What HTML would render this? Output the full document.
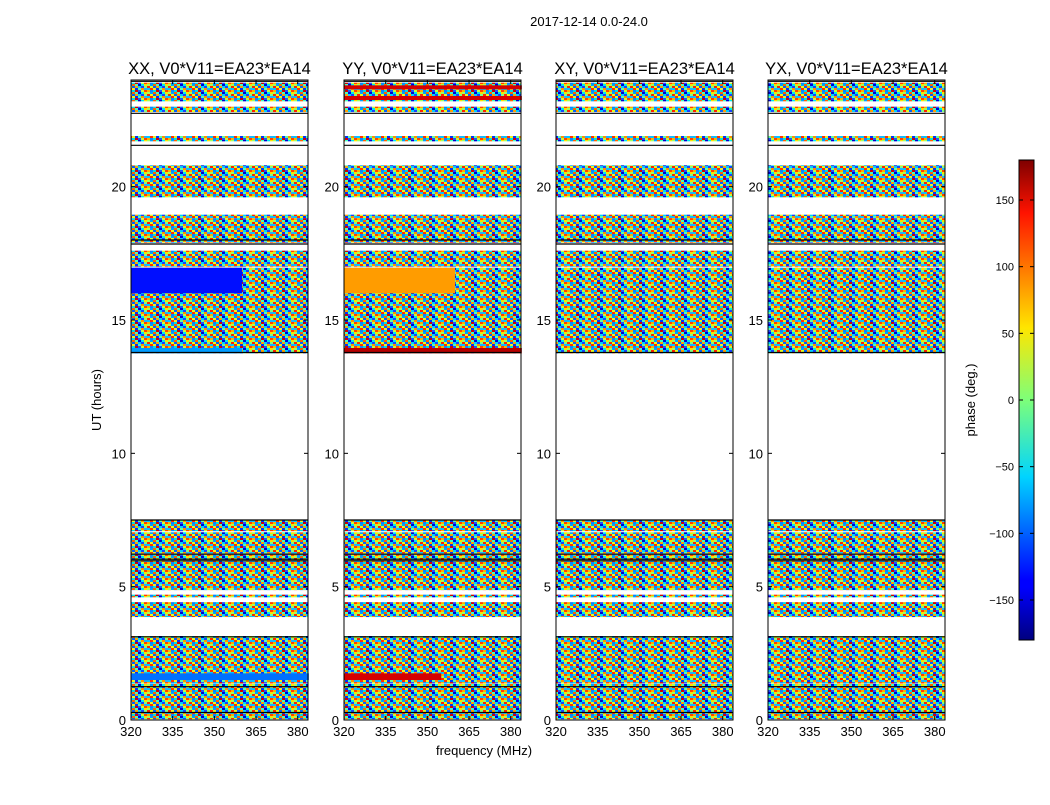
<!DOCTYPE html>
<html><head><meta charset="utf-8"><style>
body{margin:0;background:#fff;}
svg text{font-family:"Liberation Sans",sans-serif;}
</style></head><body>
<svg id="fig" width="1050" height="800" xmlns="http://www.w3.org/2000/svg">
<defs>
<pattern id="noise" patternUnits="userSpaceOnUse" width="21" height="8">
<rect x="0" y="0" width="3" height="2" fill="#00c8ff"/><rect x="3" y="0" width="3" height="2" fill="#ff3000"/><rect x="6" y="0" width="3" height="2" fill="#f0f020"/><rect x="9" y="0" width="3" height="2" fill="#0030ff"/><rect x="12" y="0" width="3" height="2" fill="#60ffa0"/><rect x="15" y="0" width="3" height="2" fill="#ff9000"/><rect x="18" y="0" width="3" height="2" fill="#20b0ff"/>
<rect x="0" y="2" width="3" height="2" fill="#ffb000"/><rect x="3" y="2" width="3" height="2" fill="#1080ff"/><rect x="6" y="2" width="3" height="2" fill="#00e0e0"/><rect x="9" y="2" width="3" height="2" fill="#d00000"/><rect x="12" y="2" width="3" height="2" fill="#2050ff"/><rect x="15" y="2" width="3" height="2" fill="#c0ff40"/><rect x="18" y="2" width="3" height="2" fill="#ff4000"/>
<rect x="0" y="4" width="3" height="2" fill="#a0ff60"/><rect x="3" y="4" width="3" height="2" fill="#00a0ff"/><rect x="6" y="4" width="3" height="2" fill="#ff6000"/><rect x="9" y="4" width="3" height="2" fill="#40ffc0"/><rect x="12" y="4" width="3" height="2" fill="#0000d0"/><rect x="15" y="4" width="3" height="2" fill="#00e8f0"/><rect x="18" y="4" width="3" height="2" fill="#ffe000"/>
<rect x="0" y="6" width="3" height="2" fill="#ff2000"/><rect x="3" y="6" width="3" height="2" fill="#e0ff20"/><rect x="6" y="6" width="3" height="2" fill="#0060ff"/><rect x="9" y="6" width="3" height="2" fill="#ffa000"/><rect x="12" y="6" width="3" height="2" fill="#00d0ff"/><rect x="15" y="6" width="3" height="2" fill="#1840ff"/><rect x="18" y="6" width="3" height="2" fill="#80ff80"/>
</pattern>
<linearGradient id="jet" x1="0" y1="1" x2="0" y2="0">
<stop offset="0" stop-color="#00007f"/><stop offset="0.11" stop-color="#0000ff"/><stop offset="0.125" stop-color="#0000ff"/><stop offset="0.34" stop-color="#00d4ff"/><stop offset="0.5" stop-color="#7dff7a"/><stop offset="0.65" stop-color="#ffe600"/><stop offset="0.89" stop-color="#ff1300"/><stop offset="1" stop-color="#7f0000"/>
</linearGradient>
</defs>
<text x="589" y="26" font-size="13" text-anchor="middle">2017-12-14 0.0-24.0</text>
<g id="panels"></g>
<text x="484" y="755" font-size="13" text-anchor="middle">frequency (MHz)</text>
<text transform="translate(101,400) rotate(-90)" font-size="13" text-anchor="middle">UT (hours)</text>
<g id="cbar"></g>
<text transform="translate(975,400) rotate(-90)" font-size="13" text-anchor="middle">phase (deg.)</text>
</svg>
<script>
const panelTitles = ["XX, V0*V11=EA23*EA14","YY, V0*V11=EA23*EA14","XY, V0*V11=EA23*EA14","YX, V0*V11=EA23*EA14"];
const xTicks = [320,335,350,365,380];
const yTicks = [0,5,10,15,20];
const cbTicks = [-150,-100,-50,0,50,100,150];
// time bands (hours) containing data
const bandStart = [0.03,0.26,1.39,1.99,3.86,4.6,4.87,6.0,6.25,7.08,13.75,16.0,17.0,17.9,18.8,19.6,21.7,22.8,23.2];
const bandEnd   = [0.26,1.37,1.99,3.15,4.42,4.7,5.99,6.2,7.04,7.49,16.0,16.96,17.6,18.8,18.95,20.8,21.9,23.0,23.9];
// uniform-phase regions: panel, t0, t1, f0, f1, phase
const specPanel = [0,0,0,1,1,1,1,1];
const specT0    = [16.0,13.75,1.5,16.0,13.75,1.5,23.25,23.65];
const specT1    = [16.96,13.95,1.75,16.96,13.95,1.75,23.4,23.8];
const specF0    = [320,320,320,320,320,320,320,320];
const specF1    = [360,360,384,360,384,355,384,384];
const specPhase = [-130,-80,-95,80,160,150,150,150];
// flagged/black rows
const blackRows = [23.95,22.75,21.55,18.0,17.85,13.78,7.5,6.22,6.03,5.97,3.12,1.25,0.28];

const panelX0 = [131,344,556,768], panelW = 177, yTop = 80, yBot = 720;
const fMin = 320, fMax = 383.7, tMin = 0, tMax = 24;
function xs(p,f){return panelX0[p] + (f-fMin)/(fMax-fMin)*panelW;}
function ys(t){return yBot - (t-tMin)/(tMax-tMin)*(yBot-yTop);}
function jet(v){
  let x=(v+180)/360;
  const r=Math.max(0,Math.min(1,1.5-Math.abs(4*x-3))), g=Math.max(0,Math.min(1,1.5-Math.abs(4*x-2))), b=Math.max(0,Math.min(1,1.5-Math.abs(4*x-1)));
  return `rgb(${Math.round(r*255)},${Math.round(g*255)},${Math.round(b*255)})`;
}
const NS="http://www.w3.org/2000/svg";
function mk(tag,attrs,parent){const e=document.createElementNS(NS,tag);for(const k in attrs)e.setAttribute(k,attrs[k]);parent.appendChild(e);return e;}
const G=document.getElementById('panels');
for(let p=0;p<4;p++){
  const g=mk('g',{},G);
  
  
  for(let i=0;i<bandStart.length;i++){
    const r=mk('rect',{x:xs(p,fMin),y:ys(bandEnd[i]),width:panelW,height:ys(bandStart[i])-ys(bandEnd[i]),fill:'url(#noise)'},g);
    
    
  }
  for(let i=0;i<specPanel.length;i++){
    if(specPanel[i]!==p)continue;
    const r=mk('rect',{x:xs(p,specF0[i]),y:ys(specT1[i]),width:xs(p,specF1[i])-xs(p,specF0[i]),height:ys(specT0[i])-ys(specT1[i]),fill:jet(specPhase[i])},g);
    
    
  }
  for(const t of blackRows){
    const l=mk('line',{x1:xs(p,fMin),x2:xs(p,fMin)+panelW,y1:ys(t),y2:ys(t),stroke:'#000','stroke-width':1.2},g);
    
    
  }
  const fr=mk('rect',{x:panelX0[p],y:yTop,width:panelW,height:yBot-yTop,fill:'none',stroke:'#000','stroke-width':1},g);
  
  
  const tt=mk('text',{x:panelX0[p]+panelW/2,y:74,'font-size':16.5,'text-anchor':'middle'},g);
  tt.textContent=panelTitles[p];
  
  
  for(const f of xTicks){
    const x=xs(p,f);
    mk('line',{x1:x,x2:x,y1:yBot,y2:yBot-4,stroke:'#000'},g);
    mk('line',{x1:x,x2:x,y1:yTop,y2:yTop+4,stroke:'#000'},g);
    const t=mk('text',{x:x,y:yBot+16,'font-size':13,'text-anchor':'middle'},g);
    t.textContent=f;
    
    
  }
  for(const v of yTicks){
    const y=ys(v);
    mk('line',{x1:panelX0[p],x2:panelX0[p]+4,y1:y,y2:y,stroke:'#000'},g);
    mk('line',{x1:panelX0[p]+panelW,x2:panelX0[p]+panelW-4,y1:y,y2:y,stroke:'#000'},g);
    const t=mk('text',{x:panelX0[p]-5,y:y+5,'font-size':13,'text-anchor':'end'},g);
    t.textContent=v;
    
    
  }
}
const CB=document.getElementById('cbar');
const cbX=1019,cbW=15,cbTop=160,cbBot=640;
function cy(v){return cbBot-(v+180)/360*(cbBot-cbTop);}
mk('rect',{x:cbX,y:cbTop,width:cbW,height:cbBot-cbTop,fill:'url(#jet)',stroke:'#000'},CB);
for(const v of cbTicks){
  const y=cy(v);
  mk('line',{x1:cbX,x2:cbX+4,y1:y,y2:y,stroke:'#000'},CB);
  mk('line',{x1:cbX+cbW,x2:cbX+cbW-4,y1:y,y2:y,stroke:'#000'},CB);
  const t=mk('text',{x:cbX-5,y:y+4,'font-size':11,'text-anchor':'end'},CB);
  t.textContent=v<0?'\u2212'+Math.abs(v):v;
  
  
}
</script>
</body></html>
